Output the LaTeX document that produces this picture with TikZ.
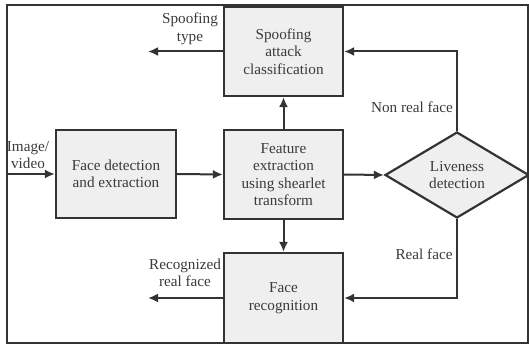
\documentclass[tikz,border=0pt]{standalone}
\usepackage{fontspec}
\setmainfont{Liberation Serif}
\newfontfamily\dfont{Liberation Serif}
\usetikzlibrary{shapes.geometric,arrows.meta}
\definecolor{boxfill}{HTML}{EFEFEF}
\definecolor{linec}{HTML}{333333}
\definecolor{textc}{HTML}{3A3A3A}
\tikzset{
  txt/.style={font=\dfont\fontsize{15.2}{17.6}\selectfont, text=textc, align=center, inner sep=0pt},
  blk/.style={txt, draw=linec, line width=2.2pt, fill=boxfill, minimum width=119pt, minimum height=89pt},
  dec/.style={txt, draw=linec, line width=2.2pt, fill=boxfill, diamond, aspect=1.7, minimum width=144pt, minimum height=86pt},
  lbl/.style={txt},
  conn/.style={draw=linec, line width=2pt, -{Latex[length=10pt,width=9pt]}}}
\begin{document}
\begin{tikzpicture}[x=1pt,y=-1pt]
\useasboundingbox (0,0) rectangle (529,344);
\draw[linec, line width=1.6pt] (7,5) rectangle (528,343);
\node[blk] (spoof) at (283.5,51.5) {Spoofing\\attack\\classification};
\node[blk, minimum width=120pt, minimum height=88pt] (facedet) at (116,174) {Face detection\\and extraction};
\node[blk] (feat) at (283.5,174.5) {Feature\\extraction\\using shearlet\\transform};
\node[blk, minimum height=90pt] (facerec) at (283.5,298) {Face\\recognition};
\node[dec] (live) at (457,175) {Liveness\\detection};
\coordinate (imgin) at (7,174);
\coordinate (spoofout) at (148,51.5);
\coordinate (recout) at (148,298);
\coordinate (nrc) at (live.north |- spoof.east);
\coordinate (rc) at (live.south |- facerec.east);
\node[lbl] (imglbl) at (28,155) {Image/\\video};
\node[lbl] (spooflbl) at (190,29) {Spoofing\\type};
\node[lbl] (reclbl) at (185,273) {Recognized\\real face};
\node[lbl] (nrlbl) at (412,107) {Non real face};
\node[lbl] (rlbl) at (424,254) {Real face};
\draw[conn] (imgin) -- (facedet.west);
\draw[conn] (facedet.east) -- (feat.west);
\draw[conn] (feat.east) -- (live.west);
\draw[conn] (feat.north) -- (spoof.south);
\draw[conn] (feat.south) -- (facerec.north);
\draw[conn] (live.north) -- (nrc) -- (spoof.east);
\draw[conn] (live.south) -- (rc) -- (facerec.east);
\draw[conn] (spoof.west) -- (spoofout);
\draw[conn] (facerec.west) -- (recout);
\end{tikzpicture}
\end{document}
